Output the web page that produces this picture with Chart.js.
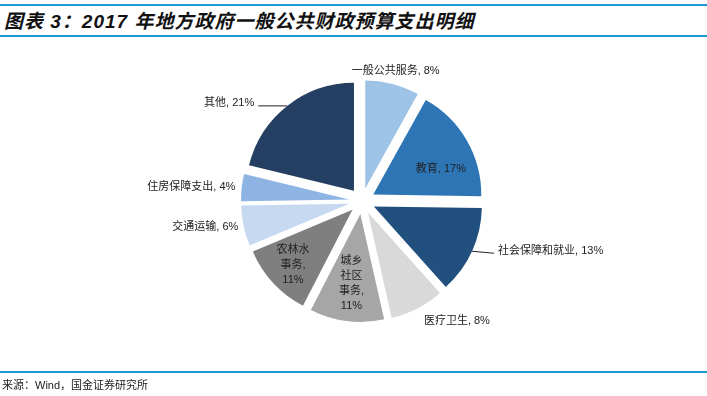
<!DOCTYPE html>
<html>
<head>
<meta charset="utf-8">
<script src="https://cdn.jsdelivr.net/npm/chart.js@4/dist/chart.umd.min.js"></script>
<style>
  body { margin: 0; background: #fff; }
  #wrap { position: relative; width: 707px; height: 396px; overflow: hidden; }
  #chart { position: absolute; left: 0; top: 0; }
  .rule { position: absolute; left: 0; width: 707px; height: 2px; background: #1d9ad6; }
  #title { position: absolute; left: 4px; top: 6px; font: italic bold 19px "Liberation Sans", "Noto Sans CJK SC", sans-serif; letter-spacing: 1px; color: #111; white-space: nowrap; }
  #source { position: absolute; left: 2px; top: 376px; font: 11px "Liberation Sans", "Noto Sans CJK SC", sans-serif; color: #222; white-space: nowrap; }
</style>
</head>
<body>
<div id="wrap">
  <div class="rule" style="top:4px"></div>
  <div id="title">图表 3：2017 年地方政府一般公共财政预算支出明细</div>
  <div class="rule" style="top:35px"></div>
  <canvas id="chart" width="707" height="396"></canvas>
  <div class="rule" style="top:371px"></div>
  <div id="source">来源：Wind，国金证券研究所</div>
</div>
<script>
// data (clockwise from 12 o'clock)
const categories = ['一般公共服务', '教育', '社会保障和就业', '医疗卫生', '城乡社区事务', '农林水事务', '交通运输', '住房保障支出', '其他'];
const shares = [8, 17, 13, 8, 11, 11, 6, 4, 21];
const sliceColors = ['#9dc3e6', '#2e75b6', '#21507f', '#d9d9d9', '#a6a6a6', '#7f7f7f', '#c6d9f0', '#8eb4e3', '#243f62'];

const EXPLODE = 13; // every slice pulled out along its bisector

// label placement: t = fraction across the slice, rf = fraction of radius
const labelLayout = [
    { t: 0.5, rf: 1.12, align: 'center' },
    { t: 0.65, rf: 0.67, align: 'center' },
    { t: 0.5, rf: 1.0, align: 'left', leader: 22, drop: 2, textDy: -2 },
    { t: 0.5, rf: 1.13, align: 'left' },
    { t: 0.5, rf: 0.65, align: 'center', wrap: 2 },
    { t: 0.5, rf: 0.75, align: 'center', wrap: 3 },
    { t: 0.5, rf: 1.05, align: 'right' },
    { t: 0.5, rf: 1.06, align: 'right' },
    { t: 0.5, rf: 1.0, align: 'right', leader: -29, drop: 0, textDy: -3 }
];

// Excel-style explosion: shift the whole slice, keep its radius
const baseArcDraw = Chart.ArcElement.prototype.draw;
Chart.ArcElement.prototype.draw = function (ctx) {
    const mid = (this.startAngle + this.endAngle) / 2;
    ctx.save();
    ctx.translate(Math.cos(mid) * EXPLODE, Math.sin(mid) * EXPLODE);
    baseArcDraw.call(this, ctx);
    ctx.restore();
};

function labelLines(i) {
    const p = labelLayout[i];
    const name = categories[i];
    if (!p.wrap) return [`${name}, ${shares[i]}%`];
    const lines = [];
    for (let k = 0; k < name.length; k += p.wrap) lines.push(name.slice(k, k + p.wrap));
    lines[lines.length - 1] += ',';
    lines.push(`${shares[i]}%`);
    return lines;
}

const sliceLabels = {
    id: 'sliceLabels',
    afterDatasetsDraw(chart) {
        const ctx = chart.ctx;
        const arcs = chart.getDatasetMeta(0).data;
        ctx.save();
        ctx.font = '11px "Liberation Sans", "Noto Sans CJK SC", sans-serif';
        ctx.fillStyle = '#222';
        ctx.strokeStyle = '#222';
        ctx.lineWidth = 1;
        ctx.textBaseline = 'middle';

        arcs.forEach((arc, i) => {
            const p = labelLayout[i];
            const { x, y, startAngle, endAngle, outerRadius } = arc.getProps(['x', 'y', 'startAngle', 'endAngle', 'outerRadius'], true);
            const mid = (startAngle + endAngle) / 2;
            const cx = x + Math.cos(mid) * EXPLODE;
            const cy = y + Math.sin(mid) * EXPLODE;
            const a = startAngle + (endAngle - startAngle) * p.t;
            let px = cx + Math.cos(a) * outerRadius * p.rf;
            let py = cy + Math.sin(a) * outerRadius * p.rf;

            if (p.leader) {
                const ex = px + p.leader, ey = py + p.drop;
                ctx.beginPath();
                ctx.moveTo(px, py);
                ctx.lineTo(ex, ey);
                ctx.stroke();
                px = ex + Math.sign(p.leader) * 4;
                py = ey + p.textDy;
            }

            const lines = labelLines(i);
            const lh = 15;
            ctx.textAlign = p.align;
            lines.forEach((ln, k) => {
                ctx.fillText(ln, px, py + (k - (lines.length - 1) / 2) * lh);
            });
        });
        ctx.restore();
    }
};

new Chart(document.getElementById('chart'), {
    type: 'pie',
    data: {
        labels: categories,
        datasets: [{
            data: shares,
            backgroundColor: sliceColors,
            borderWidth: 0
        }]
    },
    options: {
        responsive: false,
        animation: false,
        radius: 108,
        layout: { padding: { left: 120, right: 103, top: 56, bottom: 50 } },
        plugins: {
            legend: { display: false },
            tooltip: { enabled: false }
        }
    },
    plugins: [sliceLabels]
});
</script>
</body>
</html>
